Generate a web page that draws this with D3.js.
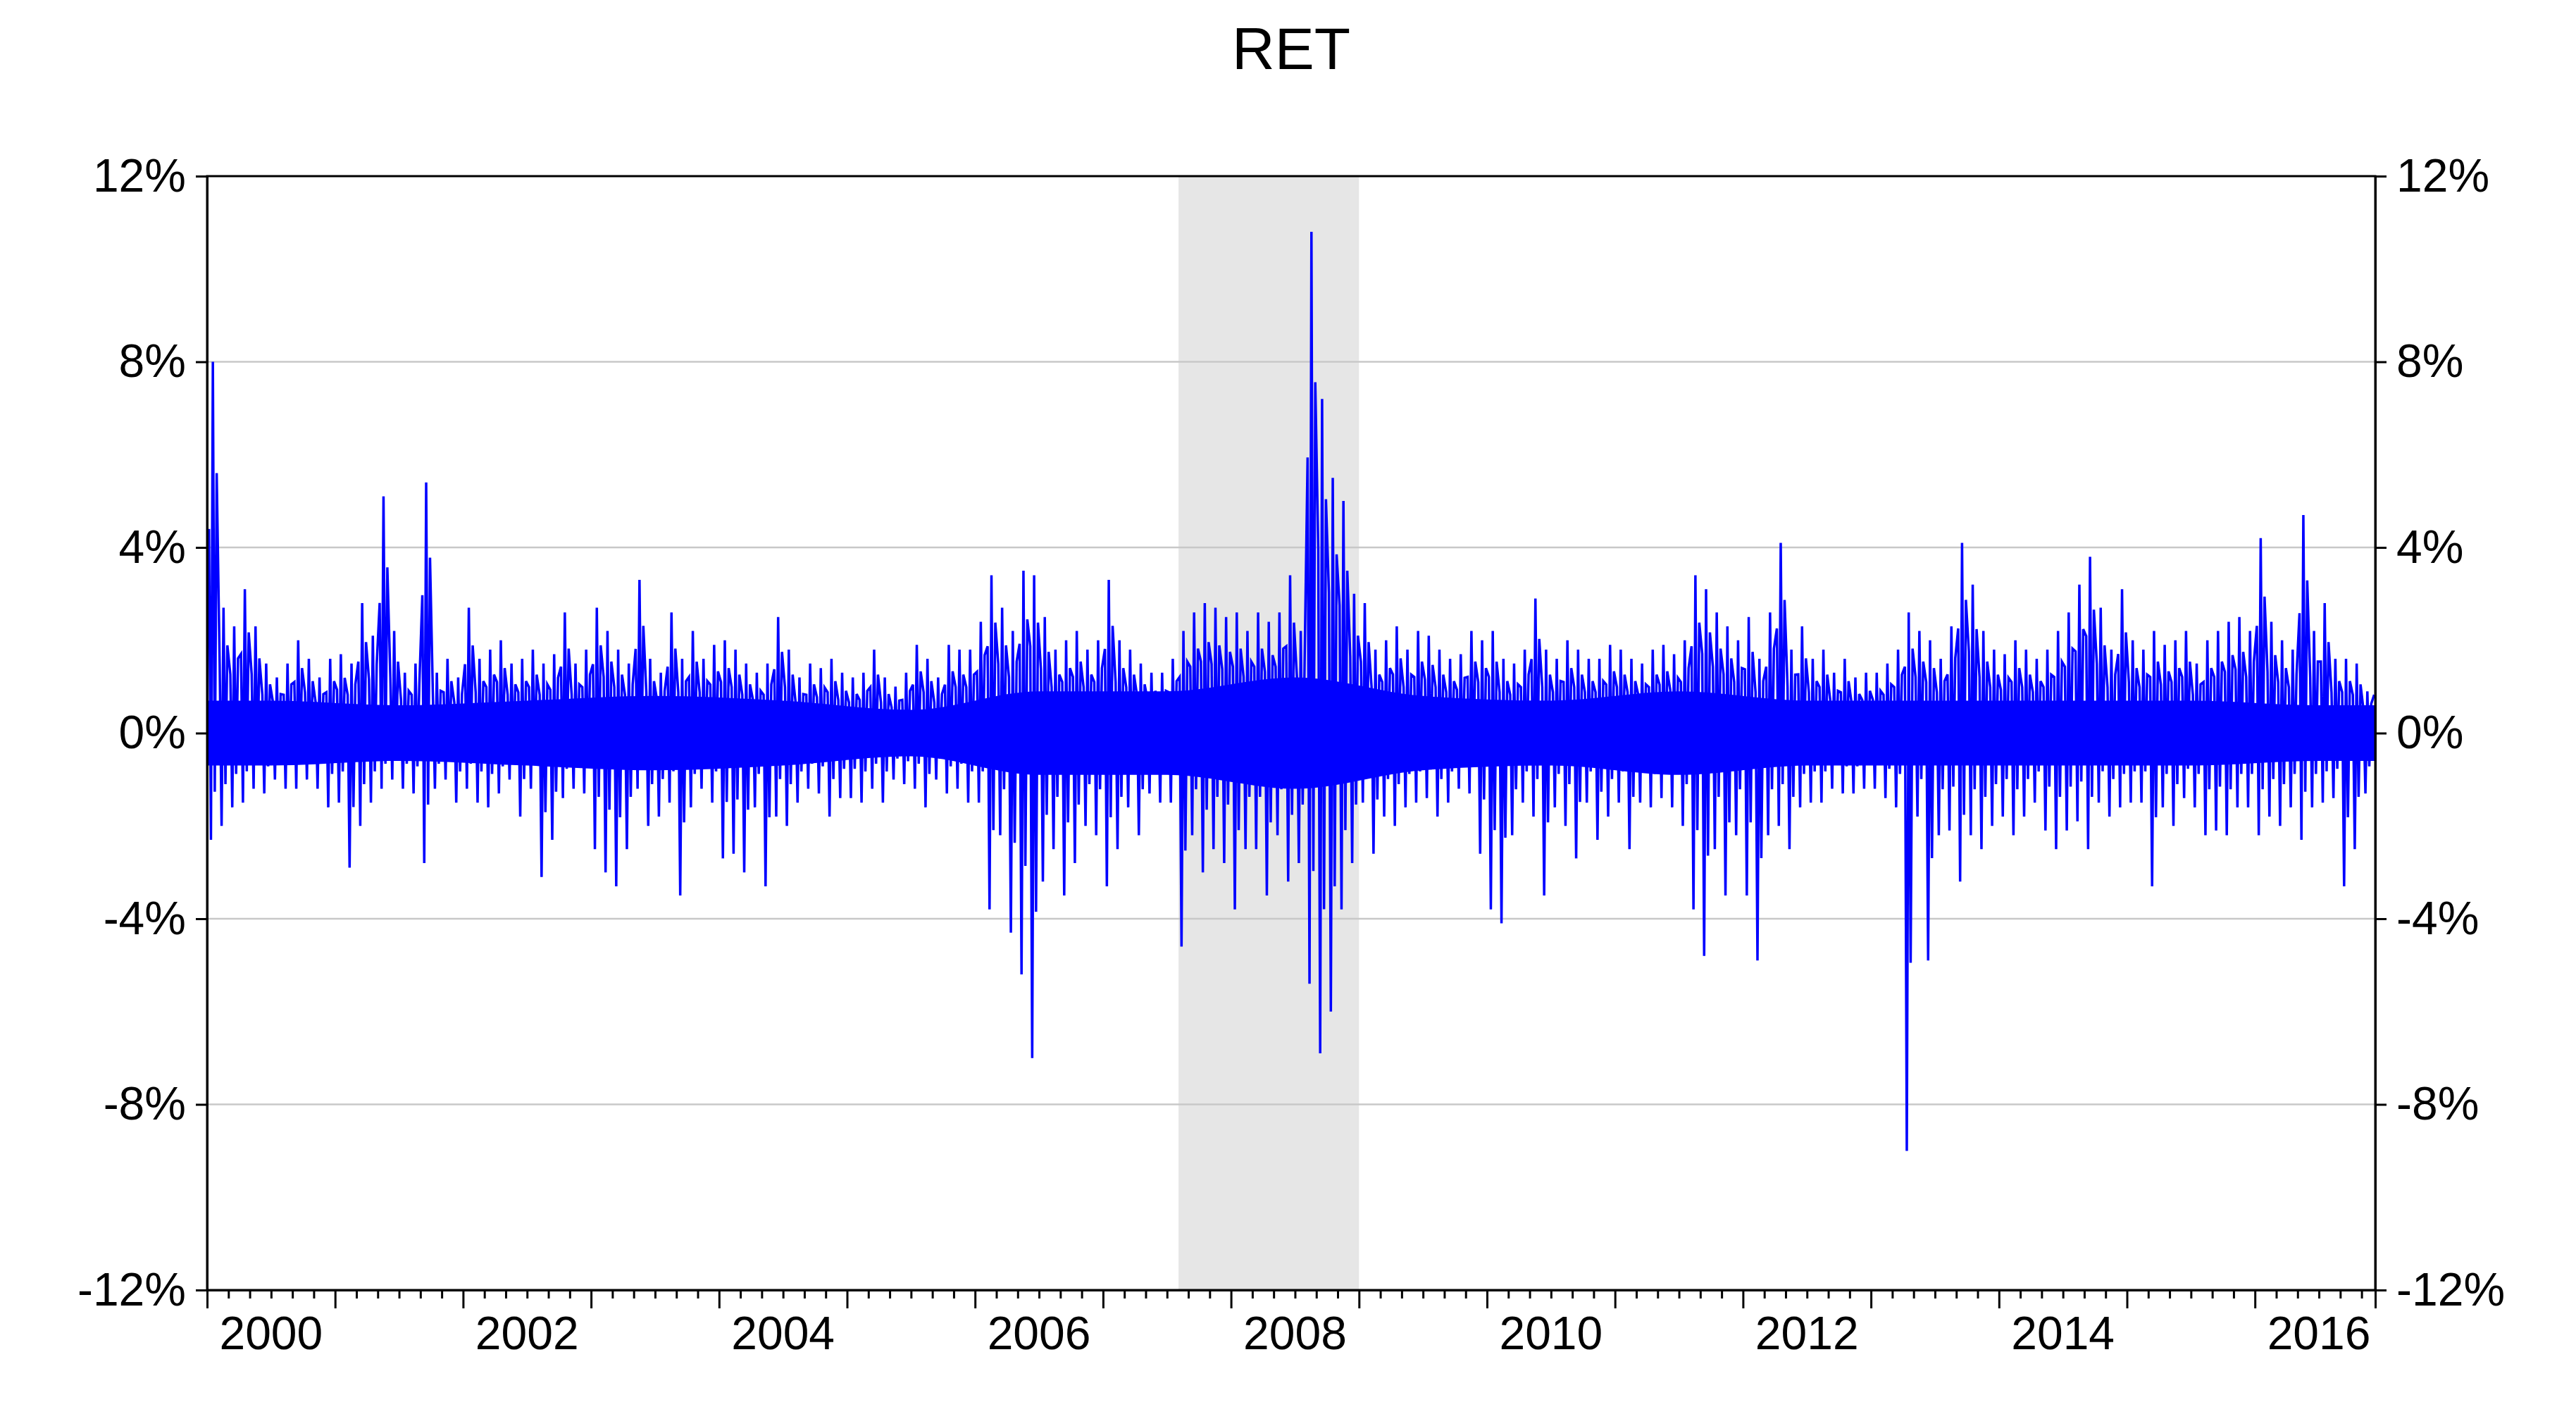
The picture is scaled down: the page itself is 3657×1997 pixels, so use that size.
<!DOCTYPE html>
<html><head><meta charset="utf-8">
<script src="https://cdn.jsdelivr.net/npm/d3@7"></script>
<style>body{margin:0;background:#fff}text{font-family:"Liberation Sans",Arial,sans-serif}</style>
</head><body><svg id="chart" width="3657" height="1997"></svg>
<script>
// monthly extremes of daily returns (%), one row per year 2000..2016
const years = d3.range(2000, 2017)
const monthHigh = [
  [8,2.7,2.3,3.1,2.3,1.5,1.2,1.5,2,1.6,1.2,1.6],
  [1.7,1.5,2.8,2.1,5.1,2.2,1.3,1.5,5.4,1.3,1.6,1.2],
  [2.7,1.6,1.8,2,1.5,1.6,1.8,1.5,1.7,2.6,1.5,1.8],
  [2.7,2.2,1.8,1.5,3.3,1.6,1.3,2.6,1.6,2.2,1.6,1.9],
  [2,1.8,1.5,1.3,1.5,2.5,1.8,1.2,1.5,1.4,1.6,1.3],
  [1.2,1.3,1.8,1.2,1,1.3,1.9,1.6,1.2,1.9,1.8,1.8],
  [2.4,3.4,2.7,2.2,3.5,3.4,2.5,1.8,2,2.2,1.8,2],
  [3.3,2,1.8,1.5,1.3,1.3,1.6,2.2,2.6,2.8,2.7,2.5],
  [2.6,2.2,2.6,2.4,2.6,3.4,2.2,10.8,7.2,5.5,5,3],
  [2.8,1.8,2,2.3,1.8,2.2,2.1,1.8,1.6,1.7,2.2,2],
  [2.2,1.6,1.5,1.8,2.9,1.8,1.6,2,1.8,1.6,1.6,1.9],
  [1.8,1.6,1.5,1.8,1.9,1.7,2,3.4,3.1,2.6,2.3,2],
  [2.5,1.6,2.6,4.1,1.8,2.3,1.6,1.8,1.3,1.6,1.2,1.3],
  [1.3,1.5,1.8,2.6,2.2,2,1.6,2.3,4.1,3.2,2.2,1.8],
  [1.7,2,1.8,1.6,1.8,2.2,2.6,3.2,3.8,2.7,1.8,3.1],
  [2,1.8,2.2,1.9,2,2.2,1.5,2,2.2,2.4,2.5,2.2],
  [4.2,2.4,2,1.8,4.7,2.2,2.8,1.6,1.6,1.5,0.9,1.5]
]
const monthLow = [
  [-2.3,-2,-1.6,-1.5,-1.2,-1.3,-1,-1.2,-1.2,-1,-1.2,-1.6],
  [-1.5,-2.9,-2,-1.5,-1.2,-1,-1.2,-1.3,-2.8,-1.2,-1,-1.5],
  [-1.2,-1.5,-1.6,-1.3,-1,-1.8,-1.2,-3.1,-2.3,-1.4,-1.2,-1.3],
  [-2.5,-3,-3.3,-2.5,-1.2,-2,-1.8,-1.5,-3.5,-1.6,-1.2,-1.5],
  [-2.7,-2.6,-3,-1.6,-3.3,-1.8,-2,-1.5,-1.2,-1.3,-1.8,-1.4],
  [-1.4,-1.5,-1.2,-1.5,-1,-1.1,-1.2,-1.6,-1,-1.3,-1.2,-1.5],
  [-1.5,-3.8,-2.2,-4.3,-5.2,-7,-3.2,-2.5,-3.5,-2.8,-2,-2.2],
  [-3.3,-2.5,-1.6,-2.2,-1.3,-1.5,-1.5,-4.6,-2.2,-3,-2.5,-2.8],
  [-3.8,-2.5,-2.5,-3.5,-2.2,-3.2,-2.8,-5.4,-6.9,-6,-3.8,-2.8],
  [-1.5,-2.6,-1.8,-2,-1.6,-1.5,-1.4,-1.8,-1.5,-1.2,-1.3,-2.6],
  [-3.8,-4.1,-2.2,-1.5,-1.8,-3.5,-1.6,-2,-2.7,-1.5,-2.3,-1.8],
  [-1.5,-2.5,-1.5,-1.6,-1.4,-1.6,-2,-3.8,-4.8,-2.5,-3.5,-2.2],
  [-3.5,-4.9,-2.2,-2,-2.5,-1.6,-1.5,-1.5,-1.2,-1.3,-1.3,-1.2],
  [-1.2,-1.4,-1.6,-9,-1.8,-4.9,-2.2,-2.1,-3.2,-2.2,-2.5,-2],
  [-1.8,-2.2,-1.8,-1.5,-2.1,-2.5,-2.1,-1.9,-2.5,-1.5,-1.8,-1.6],
  [-1.5,-1.5,-3.3,-1.6,-2,-1.4,-1.6,-2.2,-2.1,-2.2,-1.6,-1.6],
  [-2.2,-1.8,-2,-1.6,-2.3,-1.6,-1.5,-1.4,-3.3,-2.5,-1.3,-1.4]
]
// typical daily range (solid core of the band), per year
const coreAmp = [0.7,0.6,0.7,0.8,0.7,0.5,0.9,0.9,1.2,0.8,0.7,0.9,0.7,0.7,0.7,0.7,0.6]
const yTicks = [-12,-8,-4,0,4,8,12]
const recession = [2007.59, 2009.0]
const labelYears = [2000,2002,2004,2006,2008,2010,2012,2014,2016]

const svg = d3.select('#chart')
const L = 294, R = 3372, T = 250, B = 1831
const x = d3.scaleLinear().domain([2000, 2016.94]).range([L, R])
const y = d3.scaleLinear().domain([-12, 12]).range([B, T])

svg.append('rect').attr('x', x(recession[0])).attr('y', T)
  .attr('width', x(recession[1]) - x(recession[0])).attr('height', B - T).attr('fill', '#e6e6e6')

svg.selectAll('.grid').data(yTicks.slice(1, -1)).enter().append('line')
  .attr('x1', L).attr('x2', R).attr('y1', d => y(d)).attr('y2', d => y(d))
  .attr('stroke', '#c8c8c8').attr('stroke-width', 2.5)

// core band
const core = years.map((yr, i) => ({ t: yr + 0.5, a: coreAmp[i] }))
core.unshift({ t: 2000, a: coreAmp[0] })
core.push({ t: 2016.94, a: coreAmp[coreAmp.length - 1] })
svg.append('path').datum(core)
  .attr('d', d3.area().curve(d3.curveMonotoneX).x(d => x(d.t)).y0(d => y(-d.a)).y1(d => y(d.a)))
  .attr('fill', '#0000ff')

// spikes: zigzag through monthly extremes
const pts = []
years.forEach((yr, i) => {
  for (let m = 0; m < 12; m++) {
    const t0 = yr + m / 12
    pts.push([t0 + 0.015, monthHigh[i][m] * 0.55])
    pts.push([t0 + 0.03, monthLow[i][m]])
    pts.push([t0 + 0.045, monthHigh[i][m]])
    pts.push([t0 + 0.06, monthLow[i][m] * 0.55])
    pts.push([t0 + 0.075, monthHigh[i][m] * 0.7])
  }
})
svg.append('path').datum(pts.filter(p => p[0] <= 2016.94))
  .attr('d', d3.line().x(d => x(d[0])).y(d => y(d[1])))
  .attr('fill', 'none').attr('stroke', '#0000ff').attr('stroke-width', 3.5)

svg.append('rect').attr('x', L).attr('y', T).attr('width', R - L).attr('height', B - T)
  .attr('fill', 'none').attr('stroke', '#000').attr('stroke-width', 3)

const fmt = d => d + '%'
svg.append('g').attr('transform', `translate(${L},0)`)
  .call(d3.axisLeft(y).tickValues(yTicks).tickFormat(fmt).tickSize(16).tickPadding(14))
svg.append('g').attr('transform', `translate(${R},0)`)
  .call(d3.axisRight(y).tickValues(yTicks).tickFormat(fmt).tickSize(16).tickPadding(14))

// x ticks: yearly major, bimonthly minor
const months = d3.range(0, 16.94 * 12, 2).map(k => 2000 + k / 12)
svg.append('g').attr('transform', `translate(0,${B})`)
  .call(d3.axisBottom(x).tickValues(months.filter((d, k) => k % 6 !== 0)).tickFormat('').tickSize(12))
svg.append('g').attr('transform', `translate(0,${B})`)
  .call(d3.axisBottom(x).tickValues(years).tickFormat('').tickSize(26))
svg.selectAll('.xl').data(labelYears).enter().append('text')
  .attr('x', d => x(d + 0.5)).attr('y', B + 84).attr('text-anchor', 'middle')
  .attr('font-size', 66).text(d => d)

svg.selectAll('.domain').attr('stroke-width', 3)
svg.selectAll('.tick line').attr('stroke-width', 3)
svg.selectAll('.tick text').attr('font-size', 66).attr('fill', '#000')

svg.append('text').attr('x', (L + R) / 2).attr('y', 98).attr('text-anchor', 'middle')
  .attr('font-size', 84).text('RET')
</script></body></html>
